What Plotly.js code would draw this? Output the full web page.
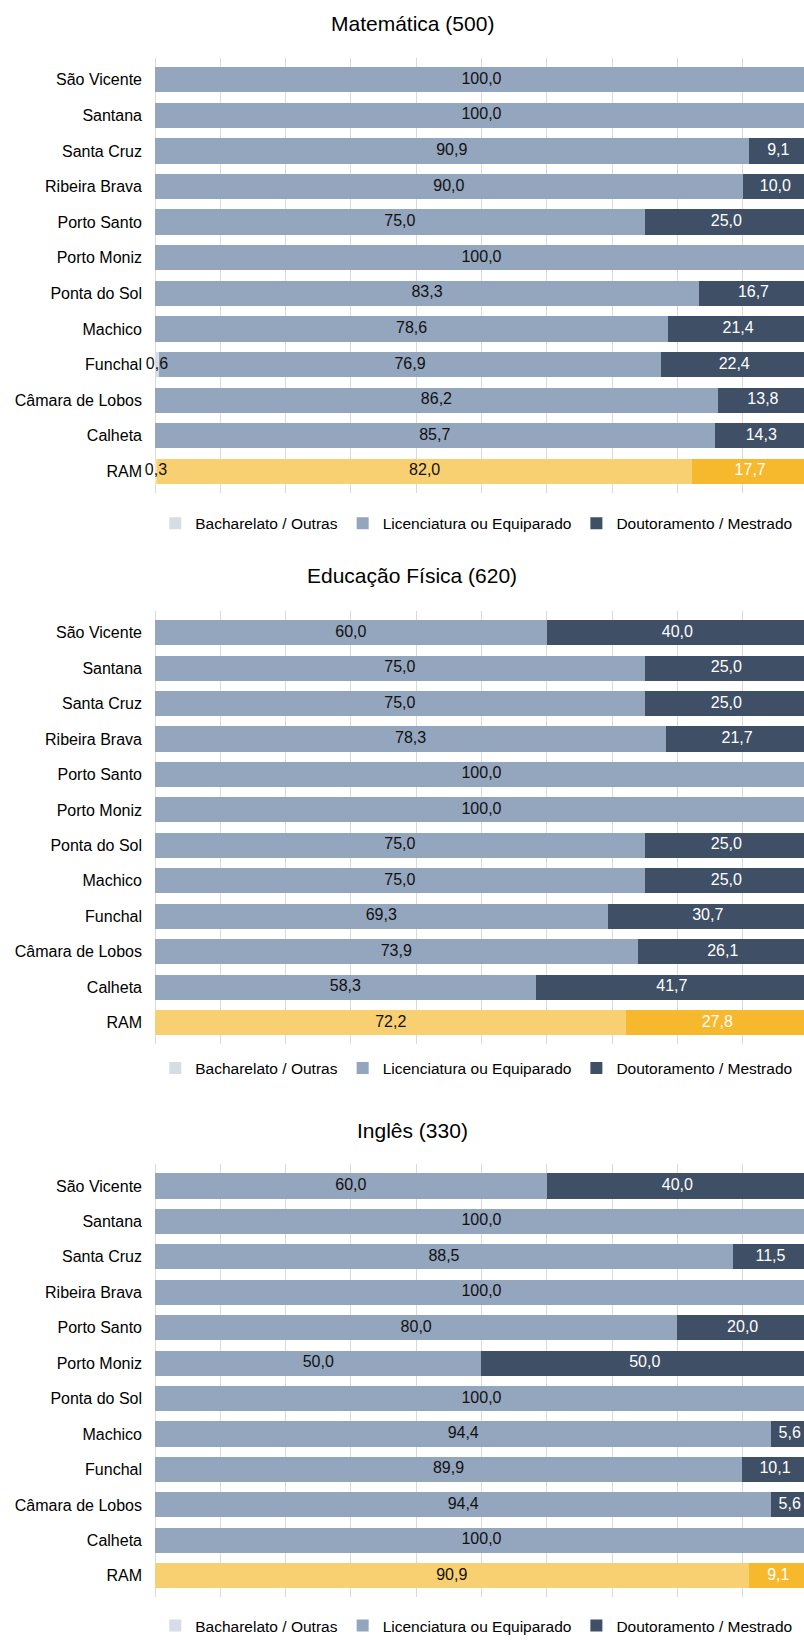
<!DOCTYPE html>
<html>
<head>
<meta charset="utf-8">
<script src="https://cdn.plot.ly/plotly-3.0.1.min.js"></script>
<style>
html,body{margin:0;padding:0;background:#fff;}
#chart{width:804px;height:1643px;}
</style>
</head>
<body>
<div id="chart"></div>
<script>
// ---------- DATA ----------
const categories = ['São Vicente','Santana','Santa Cruz','Ribeira Brava','Porto Santo','Porto Moniz','Ponta do Sol','Machico','Funchal','Câmara de Lobos','Calheta','RAM'];
const seriesNames = ['Bacharelato / Outras','Licenciatura ou Equiparado','Doutoramento / Mestrado'];
const chartTitles = ['Matemática (500)','Educação Física (620)','Inglês (330)'];

const matBach = [0,0,0,0,0,0,0,0,0.6,0,0,0.3];
const matLic  = [100,100,90.9,90.0,75.0,100,83.3,78.6,76.9,86.2,85.7,82.0];
const matDout = [0,0,9.1,10.0,25.0,0,16.7,21.4,22.4,13.8,14.3,17.7];

const edBach = [0,0,0,0,0,0,0,0,0,0,0,0];
const edLic  = [60.0,75.0,75.0,78.3,100,100,75.0,75.0,69.3,73.9,58.3,72.2];
const edDout = [40.0,25.0,25.0,21.7,0,0,25.0,25.0,30.7,26.1,41.7,27.8];

const ingBach = [0,0,0,0,0,0,0,0,0,0,0,0];
const ingLic  = [60.0,100,88.5,100,80.0,50.0,100,94.4,89.9,94.4,100,90.9];
const ingDout = [40.0,0,11.5,0,20.0,50.0,0,5.6,10.1,5.6,0,9.1];

// ---------- STYLE ----------
const FONT = 'Liberation Sans, Arial, sans-serif';
const colBach = '#D6DDE6', colLic = '#94A5BE', colDout = '#3E4F66';
const ramBach = '#FBE2A6', ramLic = '#F9D071', ramDout = '#F6B92D';
const highlight = 'RAM';

const fmt = v => v > 0 ? v.toFixed(1).replace('.', ',') : '';
const pick = (normal, ram) => categories.map(c => c === highlight ? ram : normal);

const charts = [
  {bach: matBach, lic: matLic, dout: matDout},
  {bach: edBach, lic: edLic, dout: edDout},
  {bach: ingBach, lic: ingLic, dout: ingDout}
];

// layout geometry (paper fractions)
const yDomains = [[0.69799, 0.96452],[0.36056, 0.62581],[0.02179, 0.28697]];
const legendY = [0.67925, 0.34571, 0.00426];
const titleY = [0.9859, 0.6473, 0.3080];

const data = [];
const layout = {
  width: 804, height: 1643,
  margin: {l: 155, r: 0, t: 0, b: 0},
  paper_bgcolor: '#fff', plot_bgcolor: '#fff',
  barmode: 'stack', bargap: 0.29,
  font: {family: FONT, size: 16, color: '#000'},
  annotations: [],
  showlegend: true
};

charts.forEach((ch, i) => {
  const n = i === 0 ? '' : String(i + 1);
  const xa = 'x' + n, ya = 'y' + n;
  const leg = 'legend' + n;
  const bar = (name, vals, normal, ram) => ({
    type: 'bar', orientation: 'h', name: name, x: vals, y: categories,
    xaxis: xa, yaxis: ya, legend: leg, hoverinfo: 'x+y',
    marker: {color: pick(normal, ram), line: {width: 0}}
  });
  data.push(bar(seriesNames[0], ch.bach, colBach, ramBach));
  data.push(bar(seriesNames[1], ch.lic, colLic, ramLic));
  data.push(bar(seriesNames[2], ch.dout, colDout, ramDout));

  // value labels, centred on each stacked segment
  const label = (xs, vals, color) => ({
    type: 'scatter', mode: 'text', xaxis: xa, yaxis: ya, showlegend: false, hoverinfo: 'skip',
    x: xs, y: categories, text: vals.map(fmt), textposition: 'middle center', cliponaxis: false,
    textfont: {family: FONT, size: 16, color: color}
  });
  data.push(label(ch.bach.map(v => v / 2), ch.bach, '#111'));
  data.push(label(ch.lic.map((v, k) => ch.bach[k] + v / 2), ch.lic, '#111'));
  data.push(label(ch.dout.map((v, k) => ch.bach[k] + ch.lic[k] + v / 2), ch.dout, '#fff'));

  layout['xaxis' + n] = {
    domain: [0, 1], anchor: ya, range: [0, 99.39], dtick: 10, tick0: 0,
    showgrid: true, gridcolor: '#D9D9D9', gridwidth: 1,
    zeroline: true, zerolinecolor: '#D9D9D9', zerolinewidth: 1,
    showticklabels: false, ticks: '', showline: false, fixedrange: true
  };
  layout['yaxis' + n] = {
    domain: yDomains[i], anchor: xa, type: 'category',
    categoryorder: 'array', categoryarray: categories, autorange: 'reversed',
    ticks: '', ticklabelstandoff: 12, showgrid: false, zeroline: false, showline: false,
    tickfont: {family: FONT, size: 16, color: '#000'}, fixedrange: true
  };
  layout[leg] = {
    orientation: 'h', x: 0.495, xanchor: 'center', y: legendY[i], yanchor: 'middle',
    font: {family: FONT, size: 15.5, color: '#000'}, itemwidth: 30, traceorder: 'normal',
    bgcolor: 'rgba(0,0,0,0)', borderwidth: 0
  };
  layout.annotations.push({
    text: chartTitles[i], xref: 'paper', yref: 'paper', x: 0.396, y: titleY[i],
    xanchor: 'center', yanchor: 'middle', showarrow: false,
    font: {family: FONT, size: 21, color: '#000'}
  });
});

Plotly.newPlot('chart', data, layout, {displayModeBar: false, staticPlot: true});
</script>
</body>
</html>
